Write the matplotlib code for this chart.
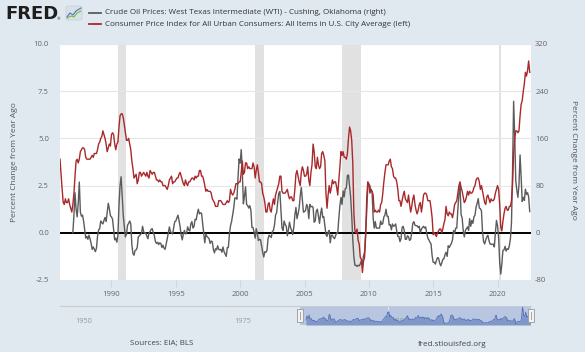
import numpy as np
import pandas as pd
import matplotlib
matplotlib.use("Agg")
import matplotlib.pyplot as plt
from matplotlib.lines import Line2D
from matplotlib.patches import Rectangle, FancyBboxPatch
import matplotlib.transforms as mtrans

plt.rcParams['font.family'] = ['Open Sans', 'DejaVu Sans']

# ---------------- data ----------------
cpi_start = "1986-01-01"
cpi_yoy = [
    3.9, 3.1, 2.3, 1.6, 1.5, 1.8, 1.6, 1.6, 1.8, 1.5, 1.3, 1.1,   # 1986
    1.5, 2.1, 3.0, 3.8, 3.9, 3.7, 3.9, 4.3, 4.4, 4.5, 4.5, 4.4,   # 1987
    4.0, 3.9, 3.9, 3.9, 3.9, 4.0, 4.1, 4.0, 4.2, 4.2, 4.2, 4.4,   # 1988
    4.7, 4.8, 5.0, 5.1, 5.4, 5.2, 5.0, 4.7, 4.3, 4.5, 4.7, 4.6,   # 1989
    5.2, 5.3, 5.2, 4.7, 4.4, 4.7, 4.8, 5.6, 6.2, 6.3, 6.3, 6.1,   # 1990
    5.7, 5.3, 4.9, 4.9, 5.0, 4.7, 4.4, 3.8, 3.4, 2.9, 3.0, 3.1,   # 1991
    2.6, 2.8, 3.2, 3.2, 3.0, 3.1, 3.2, 3.1, 3.0, 3.2, 3.0, 2.9,   # 1992
    3.3, 3.2, 3.1, 3.2, 3.2, 3.0, 2.8, 2.8, 2.7, 2.8, 2.7, 2.7,   # 1993
    2.5, 2.5, 2.5, 2.4, 2.3, 2.5, 2.8, 2.9, 3.0, 2.6, 2.7, 2.7,   # 1994
    2.8, 2.9, 2.9, 3.1, 3.2, 3.0, 2.8, 2.6, 2.5, 2.8, 2.6, 2.5,   # 1995
    2.7, 2.7, 2.8, 2.9, 2.9, 2.8, 3.0, 2.9, 3.0, 3.0, 3.3, 3.3,   # 1996
    3.0, 3.0, 2.8, 2.5, 2.2, 2.3, 2.2, 2.2, 2.2, 2.1, 1.8, 1.7,   # 1997
    1.6, 1.4, 1.4, 1.4, 1.7, 1.7, 1.7, 1.6, 1.5, 1.5, 1.5, 1.6,   # 1998
    1.7, 1.6, 1.7, 2.3, 2.1, 2.0, 2.1, 2.3, 2.6, 2.6, 2.6, 2.7,   # 1999
    2.7, 3.2, 3.8, 3.1, 3.2, 3.7, 3.7, 3.4, 3.5, 3.4, 3.4, 3.4,   # 2000
    3.7, 3.5, 2.9, 3.3, 3.6, 3.2, 2.7, 2.7, 2.6, 2.1, 1.9, 1.6,   # 2001
    1.1, 1.1, 1.5, 1.6, 1.2, 1.1, 1.5, 1.8, 1.5, 2.0, 2.2, 2.4,   # 2002
    2.6, 3.0, 3.0, 2.2, 2.1, 2.1, 2.1, 2.2, 2.3, 2.0, 1.8, 1.9,   # 2003
    1.9, 1.7, 1.7, 2.3, 3.1, 3.3, 3.0, 2.7, 2.5, 3.2, 3.5, 3.3,   # 2004
    3.0, 3.0, 3.1, 3.5, 2.8, 2.5, 3.2, 3.6, 4.7, 4.3, 3.5, 3.4,   # 2005
    4.0, 3.6, 3.4, 3.5, 4.2, 4.3, 4.1, 3.8, 2.1, 1.3, 2.0, 2.5,   # 2006
    2.1, 2.4, 2.8, 2.6, 2.7, 2.7, 2.4, 2.0, 2.8, 3.5, 4.3, 4.1,   # 2007
    4.3, 4.0, 4.0, 3.9, 4.2, 5.0, 5.6, 5.4, 4.9, 3.7, 1.1, 0.1,   # 2008
    0.0, 0.2, -0.4, -0.6, -1.3, -1.4, -2.1, -1.5, -1.3, -0.2, 1.8, 2.7,  # 2009
    2.6, 2.1, 2.3, 2.2, 2.0, 1.1, 1.2, 1.1, 1.1, 1.2, 1.1, 1.5,   # 2010
    1.6, 2.1, 2.7, 3.2, 3.6, 3.6, 3.6, 3.8, 3.9, 3.5, 3.4, 3.0,   # 2011
    2.9, 2.9, 2.7, 2.3, 1.7, 1.7, 1.4, 1.7, 2.0, 2.2, 1.8, 1.7,   # 2012
    1.6, 2.0, 1.5, 1.1, 1.4, 1.8, 2.0, 1.5, 1.2, 1.0, 1.2, 1.5,   # 2013
    1.6, 1.1, 1.5, 2.0, 2.1, 2.1, 2.0, 1.7, 1.7, 1.7, 1.3, 0.8,   # 2014
    -0.1, 0.0, -0.1, -0.2, 0.0, 0.1, 0.2, 0.2, 0.0, 0.2, 0.5, 0.7,  # 2015
    1.4, 1.0, 0.9, 1.1, 1.0, 1.0, 0.8, 1.1, 1.5, 1.6, 1.7, 2.1,   # 2016
    2.5, 2.7, 2.4, 2.2, 1.9, 1.6, 1.7, 1.9, 2.2, 2.0, 2.2, 2.1,   # 2017
    2.1, 2.2, 2.4, 2.5, 2.8, 2.9, 2.9, 2.7, 2.3, 2.5, 2.2, 1.9,   # 2018
    1.6, 1.5, 1.9, 2.0, 1.8, 1.6, 1.8, 1.7, 1.7, 1.8, 2.1, 2.3,   # 2019
    2.5, 2.3, 1.5, 0.3, 0.1, 0.6, 1.0, 1.3, 1.4, 1.2, 1.2, 1.4,   # 2020
    1.4, 1.7, 2.6, 4.2, 5.0, 5.4, 5.4, 5.3, 5.4, 6.2, 6.8, 7.0,   # 2021
    7.5, 7.9, 8.5, 8.3, 8.6, 9.1, 8.5,                            # 2022
]

wti_start = "1987-01-01"
wti_yoy = [
    0, 30, 68, 40, 27, 50, 86, 35, 28, 30, 20, 5,                 # 1987
    -9, -6, -11, -4, -10, -18, -28, -24, -28, -32, -26, -6,       # 1988
    5, 7, 20, 17, 15, 21, 26, 19, 35, 50, 41, 29,                 # 1989
    27, 23, 5, -12, -9, -16, -5, 47, 80, 95, 63, 29,              # 1990
    10, -7, -2, 13, 16, 20, 15, -20, -35, -38, -30, -29,          # 1991
    -25, -7, -5, -3, -1, 11, 2, -1, 0, -6, -10, 0,                # 1992
    2, 6, 7, 0, -5, -15, -18, -16, -20, -17, -18, -25,            # 1993
    -21, -26, -28, -19, -10, 0, 10, 2, 0, -2, 8, 19,              # 1994
    20, 25, 30, 21, 10, -4, -12, -2, 4, -2, -1, 10,               # 1995
    5, 3, 15, 19, 8, 11, 23, 22, 32, 40, 32, 34,                  # 1996
    33, 16, -2, -17, -2, -6, -8, -10, -18, -14, -15, -28,         # 1997
    -34, -27, -29, -22, -28, -29, -28, -33, -24, -32, -36, -40,   # 1998
    -25, -25, -2, 12, 19, 31, 42, 59, 59, 57, 94, 125,            # 1999
    118, 141, 103, 49, 62, 78, 48, 46, 42, 46, 38, 9,             # 2000
    9, 1, -9, 7, -1, -13, -11, -12, -23, -33, -41, -32,           # 2001
    -33, -30, -10, -4, -6, -8, 2, 4, 13, 30, 34, 52,              # 2002
    67, 70, 38, 8, 4, 20, 14, 11, -5, 5, 18, 9,                   # 2003
    4, -3, 9, 30, 43, 24, 32, 42, 62, 77, 56, 35,                 # 2004
    36, 38, 48, 44, 24, 48, 44, 45, 43, 18, 20, 37,               # 2005
    40, 28, 16, 32, 42, 26, 27, 12, -3, -6, 1, 4,                 # 2006
    -17, -4, -4, -8, -10, -5, 0, -1, 25, 46, 60, 48,              # 2007
    71, 61, 75, 76, 97, 98, 80, 61, 30, -11, -40, -55,            # 2008
    -55, -57, -55, -56, -53, -48, -52, -39, -33, -1, 36, 78,      # 2009
    82, 80, 70, 70, 25, 8, 19, 8, 8, 8, 8, 20,                    # 2010
    14, 16, 27, 30, 40, 28, 28, 13, 14, 5, 15, 11,                # 2011
    12, 15, 3, -6, -6, -15, -10, 9, 11, 4, -11, -11,              # 2012
    -5, -7, -13, -11, 0, 16, 19, 13, 12, 12, 9, 11,               # 2013
    0, 6, 9, 11, 8, 10, -1, -9, -12, -16, -19, -39,               # 2014
    -50, -50, -53, -47, -42, -43, -51, -56, -51, -45, -44, -37,   # 2015
    -33, -40, -22, -25, -21, -18, -12, 4, -1, 8, 8, 40,           # 2016
    66, 80, 31, 25, 4, -7, 4, 7, 10, 4, 24, 11,                   # 2017
    21, 16, 27, 30, 44, 50, 58, 42, 41, 37, 1, -15,               # 2018
    -19, -12, -7, -4, -13, -19, -19, -20, -19, -24, 0, 21,        # 2019
    12, -8, -50, -70, -53, -30, -29, -23, -31, -27, -28, -22,     # 2020
    -10, 17, 105, 223, 165, 88, 72, 60, 82, 132, 95, 53,          # 2021
    60, 55, 74, 65, 68, 61, 36,                                   # 2022
]

recession_starts = ["1990-07-01", "2001-03-01", "2007-12-01", "2020-02-01"]
recession_ends = ["1991-03-01", "2001-11-01", "2009-06-01", "2020-04-01"]

x_ticks = [1990, 1995, 2000, 2005, 2010, 2015, 2020]
left_ticks = [-2.5, 0.0, 2.5, 5.0, 7.5, 10.0]
left_tick_labels = ["-2.5", "0.0", "2.5", "5.0", "7.5", "10.0"]
right_ticks = [-80, 0, 80, 160, 240, 320]
right_tick_labels = ["-80", "0", "80", "160", "240", "320"]
nav_ticks = [1950, 1975, 2000]

wti_label = "Crude Oil Prices: West Texas Intermediate (WTI) - Cushing, Oklahoma (right)"
cpi_label = "Consumer Price Index for All Urban Consumers: All Items in U.S. City Average (left)"
axis_title = "Percent Change from Year Ago"


def dec_year(d):
    d = pd.to_datetime(d)
    return d.year + (d.month - 1) / 12.0


cpi_dates = pd.date_range(cpi_start, periods=len(cpi_yoy), freq="MS")
wti_dates = pd.date_range(wti_start, periods=len(wti_yoy), freq="MS")
cpi_x = np.array(dec_year(cpi_dates))
wti_x = np.array(dec_year(wti_dates))

# ---------------- figure ----------------
W, H = 585, 352
BG = "#e1e9f0"
fig = plt.figure(figsize=(W / 100, H / 100), dpi=100, facecolor=BG)


def px_axes(x0, y0, x1, y1):
    return fig.add_axes([x0 / W, 1 - y1 / H, (x1 - x0) / W, (y1 - y0) / H])


XMIN, XMAX = 1986.0, 2022.6
ax = px_axes(60, 44, 531, 280)
ax.set_facecolor("white")
ax2 = ax.twinx()

for a in (ax, ax2):
    for s in a.spines.values():
        s.set_visible(False)

ax.set_xlim(XMIN, XMAX)
ax.set_ylim(-80, 320)
ax2.set_ylim(-2.5, 10)

tick_color = "#666666"
ax.set_xticks(x_ticks)
ax.set_xticklabels([str(t) for t in x_ticks])
ax.tick_params(axis="x", length=5, color="#ccd6eb", width=0.8, pad=3,
               labelsize=5.6, labelcolor=tick_color)

ax.yaxis.tick_right()
ax.set_yticks(right_ticks)
ax.set_yticklabels(right_tick_labels)
ax.tick_params(axis="y", length=0, pad=3, labelsize=5.6, labelcolor=tick_color)

ax2.yaxis.tick_left()
ax2.set_yticks(left_ticks)
ax2.set_yticklabels(left_tick_labels)
ax2.tick_params(axis="y", length=0, pad=8, labelsize=5.6, labelcolor=tick_color)

ax.set_axisbelow(True)
ax.grid(axis="y", color="#e6e6e6", lw=0.8, zorder=0)
ax.grid(axis="x", visible=False)

for s, e in zip(recession_starts, recession_ends):
    ax.axvspan(dec_year(s), dec_year(e), color="#e1e1e1", lw=0, zorder=0.5)

ax.axhline(0, color="black", lw=1.4, zorder=1.5)
ax.plot(wti_x, wti_yoy, color="#5b5b5b", lw=1.0, zorder=2)
ax2.plot(cpi_x, cpi_yoy, color="#a9282b", lw=1.0, zorder=3)

fig.text(14 / W, 1 - 162 / H, axis_title, rotation=90, ha="center", va="center",
         fontsize=6.0, color="#555555")
fig.text(573 / W, 1 - 160 / H, axis_title, rotation=270, ha="center", va="center",
         fontsize=6.0, color="#555555")

# ---------------- header / legend ----------------
fig.text(5 / W, 1 - 14 / H, "FRED", fontsize=13, fontweight="bold",
         family=["DejaVu Sans"], color="#1e1e1e", ha="left", va="center")
fig.text(57 / W, 1 - 19 / H, "®", fontsize=3, color="#1e1e1e", ha="left", va="center")
icon = FancyBboxPatch((66 / W, 1 - 20 / H), 16 / W, 14 / H,
                      boxstyle="round,pad=0,rounding_size=0.003",
                      transform=fig.transFigure, facecolor="#d9e0e8",
                      edgecolor="#c5ced8", lw=0.5)
fig.add_artist(icon)
fig.add_artist(Line2D(np.array([67, 70, 73, 76, 81]) / W,
                      1 - np.array([17, 13, 15, 11, 8]) / H,
                      color="#4a78b8", lw=0.8))
fig.add_artist(Line2D(np.array([67, 71, 74, 77, 81]) / W,
                      1 - np.array([18, 16, 17, 13, 11]) / H,
                      color="#7fb843", lw=0.8))

fig.add_artist(Line2D([89 / W, 101 / W], [1 - 12.7 / H] * 2, color="#5b5b5b", lw=1.3))
fig.add_artist(Line2D([89 / W, 101 / W], [1 - 24 / H] * 2, color="#a9282b", lw=1.3))
fig.text(105 / W, 1 - 12.7 / H, wti_label, fontsize=5.8, color="#333333",
         ha="left", va="center")
fig.text(105 / W, 1 - 24 / H, cpi_label, fontsize=5.8, color="#333333",
         ha="left", va="center")

# ---------------- navigator ----------------
NAV_MIN = 1948.1
nav = px_axes(60, 306, 531, 325)
nav.set_facecolor("none")
for s in nav.spines.values():
    s.set_visible(False)
nav.set_xticks([])
nav.set_yticks([])
nav.set_xlim(NAV_MIN, XMAX)
nav.set_ylim(-85, 235)
nav.axvspan(XMIN, XMAX, color="#b9c6e2", lw=0, zorder=0)
for t in nav_ticks:
    nav.axvline(t, color="#e6e6e6", lw=0.6, zorder=0.2)
    nav.text(t + 0.6, -20, str(t), fontsize=5.3, color="#999999",
             ha="left", va="center", zorder=1)
nav.fill_between(wti_x, wti_yoy, -85, color="#7f98c9", lw=0, zorder=2)
nav.plot(wti_x, wti_yoy, color="#5573b3", lw=0.6, zorder=3)
nav.plot([NAV_MIN, XMIN], [235, 235], color="#cccccc", lw=0.8, clip_on=False, zorder=4)
nav.plot([XMIN, XMAX], [235, 235], color="#cccccc", lw=0.5, clip_on=False, zorder=4)

blend = mtrans.blended_transform_factory(nav.transData, nav.transAxes)
hw = 6 / (471 / (XMAX - NAV_MIN))
for hx in (XMIN, XMAX):
    nav.add_patch(Rectangle((hx - hw / 2, 0.15), hw, 0.7, transform=blend,
                            facecolor="#f2f2f2", edgecolor="#999999", lw=0.6,
                            zorder=5, clip_on=False))
    nav.plot([hx, hx], [0.32, 0.68], transform=blend, color="#999999", lw=0.6,
             zorder=6, clip_on=False)

# ---------------- footer ----------------
fig.text(162 / W, 1 - 344 / H, "Sources: EIA; BLS", fontsize=5.8, color="#444444",
         ha="center", va="center")
fig.text(452 / W, 1 - 344 / H, "fred.stlouisfed.org", fontsize=5.8, color="#444444",
         ha="center", va="center")

fig.savefig("out.png", dpi=100, facecolor=BG)
